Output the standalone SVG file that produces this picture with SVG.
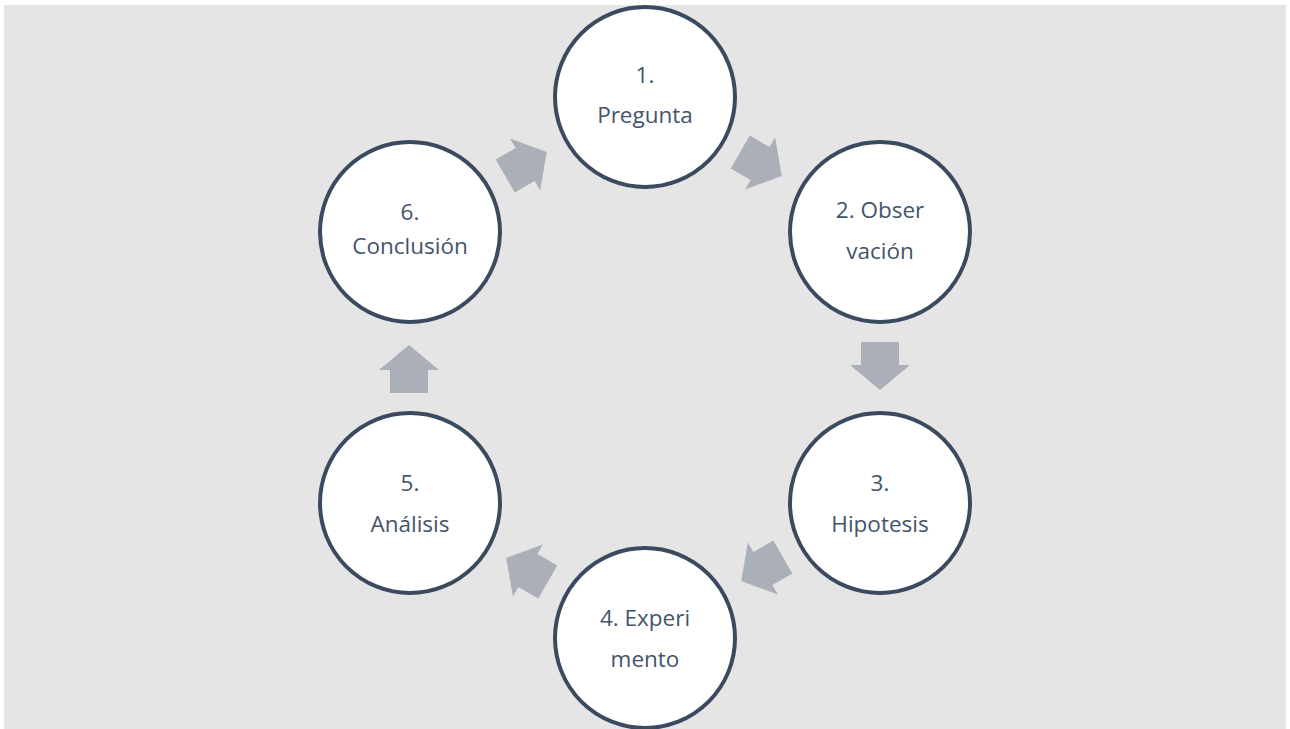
<svg xmlns="http://www.w3.org/2000/svg" width="1290" height="729" viewBox="0 0 1290 729">
<style>
.bg{fill:#E5E5E5}
.node circle{fill:#FFFFFF;stroke:#3B4A5F;stroke-width:4}
.node text{font-family:"Open Sans","Noto Sans",sans-serif;font-size:22.5px;fill:#44546A;text-anchor:middle}
.arr{fill:#ABAFB7}
</style>
<defs>
<path id="arrow" d="M-19,-24 L19,-24 L19,-1 L30,-1 L0,24 L-30,-1 L-19,-1 Z"/>
</defs>
<rect class="bg" x="4" y="5" width="1282" height="724"/>
<g id="connectors">
<use href="#arrow" class="arr" transform="translate(761,164) rotate(-60)"/>
<use href="#arrow" class="arr" transform="translate(880,366)"/>
<use href="#arrow" class="arr" transform="translate(762,569) rotate(60)"/>
<use href="#arrow" class="arr" transform="translate(527,570) rotate(120)"/>
<use href="#arrow" class="arr" transform="translate(409,369) rotate(180)"/>
<use href="#arrow" class="arr" transform="translate(526,164) rotate(-120)"/>
</g>
<g id="n1" class="node"><circle cx="645" cy="97" r="90"/><text x="645" y="83">1.</text><text x="645" y="123">Pregunta</text></g>
<g id="n2" class="node"><circle cx="880" cy="232" r="90"/><text x="880" y="218">2. Obser</text><text x="880" y="259">vación</text></g>
<g id="n3" class="node"><circle cx="880" cy="503" r="90"/><text x="880" y="491">3.</text><text x="880" y="532">Hipotesis</text></g>
<g id="n4" class="node"><circle cx="645" cy="638" r="90"/><text x="645" y="626">4. Experi</text><text x="645" y="667">mento</text></g>
<g id="n5" class="node"><circle cx="410" cy="503" r="90"/><text x="410" y="491">5.</text><text x="410" y="532">Análisis</text></g>
<g id="n6" class="node"><circle cx="410" cy="232" r="90"/><text x="410" y="220">6.</text><text x="410" y="254">Conclusión</text></g>
</svg>
